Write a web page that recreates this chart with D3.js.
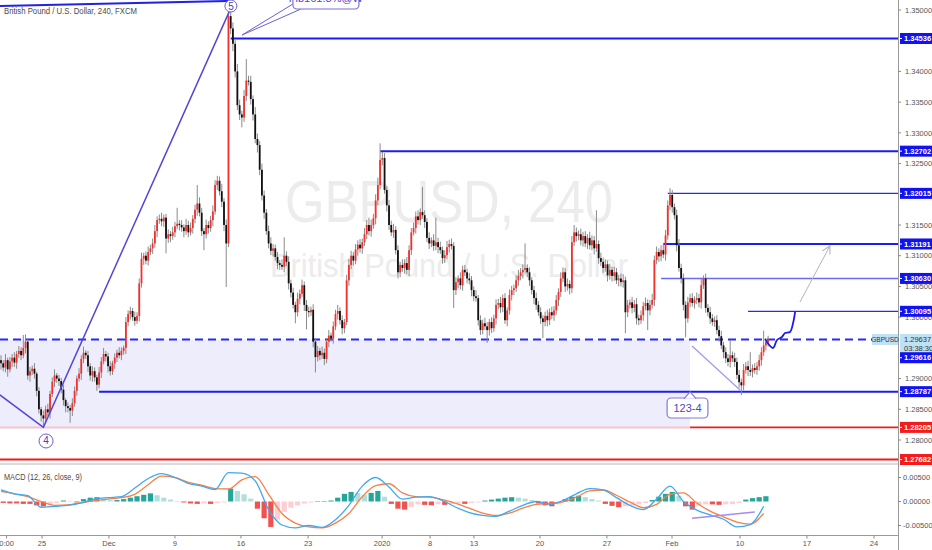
<!DOCTYPE html>
<html><head><meta charset="utf-8">
<script src="https://cdn.jsdelivr.net/npm/d3@7"></script>
<style>
html,body{margin:0;padding:0;background:#fff;overflow:hidden}
svg{display:block;font-family:"Liberation Sans",Arial,sans-serif}
</style></head><body>
<svg id="c" width="932" height="550"></svg>
<script>
// ---------- DATA (4h bars, prices in pips relative to 1.30000) ----------
const PRICE_BASE = 1.3, PIP = 0.0001;
const firstOpen = -70;
const closes = [
-75,-82,-70,-85,-72,-66,-74,-60,-55,-62,
-50,-40,-95,-88,-84,-92,-120,-150,-160,-165,
-150,-155,-125,-105,-95,-100,-104,-118,-135,-145,
-148,-152,-140,-120,-100,-92,-68,-58,-62,-80,
-95,-88,-98,-110,-90,-72,-60,-64,-80,-88,
-75,-66,-58,-62,-55,-50,-8,5,10,0,
-6,2,55,95,100,92,106,112,120,140,
158,160,156,162,128,135,132,138,148,152,
150,146,140,150,138,145,160,175,185,170,
140,135,150,145,158,172,215,222,205,188,
150,120,490,470,445,400,345,330,325,360,
385,383,355,330,290,280,240,198,170,140,
120,108,112,98,88,85,82,100,90,55,
40,20,8,30,38,52,20,10,8,12,
-40,-65,-55,-62,-58,-68,-40,-30,-35,-15,
5,10,-5,-18,-8,60,85,100,92,110,
118,112,122,135,150,140,150,161,190,215,
256,259,207,182,150,138,142,109,73,85,
80,88,77,109,138,145,164,158,171,166,
155,129,120,125,116,122,114,109,96,101,
114,119,116,44,57,63,52,77,73,63,
60,44,34,31,-5,-21,-10,-15,-21,-8,
-18,-2,20,23,16,31,-5,11,36,44,
47,60,67,73,77,80,73,60,44,31,
20,8,-2,-8,2,-5,8,3,11,28,
41,63,73,50,54,47,122,138,132,135,
125,132,120,129,117,125,112,119,96,90,
80,86,68,77,67,73,60,63,57,60,
8,20,24,15,21,-2,-5,3,18,23,
11,20,28,93,106,99,109,102,133,182,
199,179,166,117,80,63,20,-2,24,31,
23,28,31,24,52,63,15,8,-2,-8,
-5,-21,-31,-46,-57,-67,-73,-62,-67,-73,
-94,-106,-111,-86,-80,-86,-89,-83,-86,-80,
-70,-57,-46,-41,-36.3];
const wickUp = [
8,5,10,4,7,6,9,5,8,6, 21,12,4,7,5,9,3,6,4,8, 6,9,5,7,10,4,6,5,8,3, 6,5,8,7,5,9,6,10,4,7,
5,8,6,4,9,7,10,5,6,8, 4,7,5,9,6,4,8,6,7,5, 9,6,8,10,5,7,9,6,8,10, 6,7,10,5,6,8,5,9,7,26,
6,8,5,10,7,9,6,8,30,10, 8,5,9,6,7,10,8,8,7,12, 6,9,15,7,10,8,12,9,6,10, 35,8,10,6,12,9,7,10,8,6,
9,10,7,6,8,5,9,30,7,9, 6,8,5,10,7,9,6,8,7,5, 9,6,8,5,10,7,6,9,5,8, 7,10,6,8,5,9,10,8,6,9,
7,9,6,10,8,12,9,7,10,12, 27,10,8,6,9,7,10,6,8,5, 9,6,10,8,7,9,8,10,6,41, 8,6,9,5,10,40,7,9,6,8,
10,7,9,6,8,5,10,7,8,6, 9,7,6,10,5,8,6,9,7,5, 8,6,9,7,10,6,8,5,9,7, 6,8,10,7,9,40,6,8,5,7,
9,6,8,5,7,10,6,9,7,8, 6,10,8,7,9,6,10,12,8,6, 9,7,8,6,10,8,7,55,6,9, 7,8,6,10,5,9,7,6,8,10,
6,8,5,9,7,10,6,8,7,9, 6,8,10,7,9,6,8,10,9,8, 11,8,6,9,10,7,8,6,9,7, 8,6,9,7,10,5,8,6,9,7,
6,8,7,9,6,8,7,25,6,9, 7,8,6,10,7,9,29,6,8,7, 9,8,24,7,6];
const wickDown = [
10,6,8,12,5,9,7,10,6,8, 5,9,7,10,6,8,9,7,10,13, 8,6,10,5,9,7,8,6,9,10, 7,20,9,6,8,5,10,7,6,9,
8,10,7,10,6,9,5,8,10,7, 6,9,7,5,8,6,10,7,9,6, 8,5,9,7,10,6,8,5,9,7, 10,6,8,9,24,7,10,6,8,5,
9,7,10,6,8,5,9,7,10,6, 8,26,7,9,6,10,5,8,7,9, 10,71,6,9,12,10,8,9,16,7, 8,6,9,10,7,12,9,8,10,6,
8,7,9,6,10,8,5,9,7,10, 8,6,18,7,9,5,10,30,8,6, 9,25,7,8,6,10,7,9,5,8, 6,9,7,10,8,5,9,7,8,6,
10,7,9,6,8,7,9,6,10,8, 7,9,6,10,8,6,9,7,10,8, 6,9,7,10,8,5,9,7,8,6, 10,7,9,6,8,7,10,6,9,8,
7,9,6,29,8,10,7,9,6,8, 7,10,8,6,9,8,7,6,21,9, 8,6,10,7,9,8,6,10,7,9, 8,6,9,7,10,6,8,9,7,10,
8,6,9,26,7,10,8,6,9,7, 10,8,6,9,7,10,8,6,9,7, 8,10,6,9,7,8,10,6,9,7, 8,6,10,7,9,8,6,10,7,9,
34,8,6,9,7,10,8,6,9,7, 32,8,6,10,7,9,8,6,10,7, 8,9,7,10,6,8,9,31,7,8, 6,9,7,8,10,6,8,7,9,6,
8,7,9,6,10,8,7,9,6,8, 7,9,16,8,6,10,7,9,6,8, 7,9,6,8,7];

// horizontal levels
const levelPrices = [1.34536,1.32702,1.32015,1.31191,1.30630,1.30095,1.28787,1.28205,1.27682];
const levelStartBars = [103,170,299,297,296,335,44,309,-1];
const currentPrice = 1.29637, countdown = "03:38:30", bidPrice = 1.29616, symbol = "GBPUSD";
// right axis ticks
const priceTicks = [1.35,1.34,1.335,1.33,1.325,1.315,1.31,1.305,1.30,1.29,1.285,1.28];
// time axis
const timeTickBars = [2.5,18.4,48.4,78,107.6,137.7,170.9,192.4,212.1,241.7,271.7,300.9,331.4,361.4,391.5];
const timeTickLabels = ["0:00","25","Dec","9","16","23","2020","8","13","20","27","Feb","10","17","24"];
// MACD (units of 0.001), sampled every 6 bars
const macdLine = [2.4,1.6,1.2,-1.2,-1.0,-0.8,-0.3,0.5,0.8,1.0, 2.8,4.8,5.8,5.0,3.8,3.2,2.5,6.0,5.9,4.3,
 -1.7,-4.9,-5.5,-5.0,-5.4,-3.8,-0.8,3.2,5.0,3.0, 0.5,0.9,1.0,0.2,-1.2,-2.3,-2.9,-3.1,-2.0,-0.8,
 0,-0.6,0.2,1.6,2.7,2.4,0.8,-0.8,-1.7,0.5, 3.2,0.0,-1.8,-2.8,-3.7,-5.3,-4.8,-1.0];
const signalLine = [2.1,1.6,1.0,0.0,-0.8,-0.7,-0.3,0.2,0.5,0.8, 1.5,3.5,5.3,5.0,4.0,3.4,2.7,2.6,4.5,5.2,
 1.5,-2.5,-4.5,-5.3,-5.5,-4.5,-2.5,1.0,3.3,3.7, 1.8,1.0,0.9,0.4,-0.4,-1.4,-2.4,-2.9,-2.4,-1.4,
 -0.6,-0.4,-0.1,0.9,2.2,2.4,1.3,-0.1,-1.3,-0.6, 1.5,1.8,-0.3,-2.0,-3.2,-4.3,-4.7,-2.5];
// MACD histogram (units of 0.001), sampled every 3 bars starting at bar 1
const macdHist = [-0.3,-0.4,-0.4,-0.5,-0.5, -0.8,-1.0,-0.8, -0.3,0.2,0.1,-0.2, 0.5,0.8,0.9,0.6, 0.3,0.3,
 0.5,0.8,1.1,1.4,1.7,1.3, 0.8,0.4,0.1, -0.2,-0.4,-0.5,-0.4,-0.5,-0.3,-0.2, 2.7,2.2, 1.5,0.6,
 -1.5,-3.5,-5.3,-3.8, -2.2,-1.3,-0.8, -0.4,-0.2,0.1,-0.1,0.2, 0.8,1.6,2.0,1.8,1.4, 1.8,2.2,1.0,
 -0.5,-1.5,-1.7,-1.1, -0.6,-0.7,-0.8,-0.6,-0.7,-0.5, -0.4,-0.5,-0.3,-0.2,0.2,0.4, 0.6,0.8,0.9,0.8,0.6,0.3,
 -0.4,-0.8,-1.0,-0.6, 0.5,1.0,1.2,0.9, 0.5,0.2, -0.5,-0.9,-1.2,-1.0,-0.8, -0.6,-0.3,0.3,
 1.0,1.6,2.0,1.2, -1.0,-1.7, -0.9,-0.6,-0.6,-0.7,-0.6,-0.5,-0.3, 0.4,0.7,0.9,1.1];
// drawing anchors [bar, price]
const waveBars = [-0.5,19,102.3], wavePrices = [1.28733,1.28205,1.3497];
const topLineBars = [-0.5,101.8], topLinePrices = [1.35065,1.35147];
const circleTexts = ["4","5"], circleBars = [20.2,103.1], circlePrices = [1.27984,1.35065];
const fibText = "Fib161.8%@W", fibBoxBars = [130.9,160.5], fibBoxPrices = [1.35358,1.35016], fibTip = [108.1,1.34593];
const tagText = "123-4", tagBoxBars = [298.7,317], tagBoxPrices = [1.28684,1.28358], tagTip = [309,1.28782];
const diagBars = [309.9,331.4], diagPrices = [1.2953,1.28814];
const arrowBars = [358.3,371.7], arrowPrices = [1.30247,1.31158];
const pathBars = [342.6,346.2,348.0,350.2,351.6,353.8,355.2,356.1];
const pathPrices = [1.29644,1.29498,1.29628,1.29677,1.29742,1.29758,1.29905,1.30084];
const boxBars = [-1,309], boxPrices = [1.28205,1.29637];

// ---------- SCALES ----------
const AX = 898;
const x = d3.scaleLinear().domain([0,400]).range([1,1+400*2.23]);
const y = d3.scaleLinear().domain([1.28,1.35]).range([440,10]);
const ym = d3.scaleLinear().domain([-0.005,0.005]).range([525.5,477.5]);
const P = v => PRICE_BASE + v*PIP;
const svg = d3.select("#c");
svg.append("rect").attr("width",932).attr("height",550).attr("fill","#fff");
const defs = svg.append("defs");
defs.append("clipPath").attr("id","main").append("rect").attr("x",0).attr("y",0).attr("width",AX).attr("height",463);
defs.append("clipPath").attr("id","sub").append("rect").attr("x",0).attr("y",465).attr("width",AX).attr("height",70);
defs.append("marker").attr("id","ah").attr("viewBox","0 0 10 10").attr("refX",9).attr("refY",5)
  .attr("markerWidth",9).attr("markerHeight",9).attr("orient","auto")
  .append("path").attr("d","M0,0 L9,5 L0,10").attr("fill","none").attr("stroke","#b4b4b4").attr("stroke-width",1.2);

const main = svg.append("g").attr("clip-path","url(#main)");

// watermark
main.append("text").attr("x",285).attr("y",222).attr("font-size",60).attr("fill","#ececec")
  .attr("textLength",328).attr("lengthAdjust","spacingAndGlyphs").text("GBPUSD, 240");
main.append("text").attr("x",270).attr("y",277).attr("font-size",33).attr("fill","#ececec")
  .attr("textLength",358).attr("lengthAdjust","spacingAndGlyphs").text("British Pound / U.S. Dollar");

// lavender box
main.append("rect").attr("x",x(boxBars[0])).attr("y",y(boxPrices[1]))
  .attr("width",x(boxBars[1])-x(boxBars[0])).attr("height",y(boxPrices[0])-y(boxPrices[1]))
  .attr("fill","#ededfb");
main.append("line").attr("x1",x(boxBars[0])).attr("x2",x(boxBars[1])).attr("y1",y(boxPrices[0])).attr("y2",y(boxPrices[0]))
  .attr("stroke","#f5c4cc").attr("stroke-width",2);

// level lines
const lvlStyle = [["#1c1cf0",2],["#1c1cf0",2],["#2a2aee",1.3],["#1c1cf0",2],["#6a6af2",1.4],["#2a2aee",1.2],["#1c1cf0",2],["#f31b1b",1.8],["#f31b1b",2]];
levelPrices.forEach((p,k)=>{
  main.append("line").attr("x1",x(levelStartBars[k])).attr("x2",AX).attr("y1",y(p)).attr("y2",y(p))
    .attr("stroke",lvlStyle[k][0]).attr("stroke-width",lvlStyle[k][1]);
});
// current price dashed line
main.append("line").attr("x1",0).attr("x2",AX).attr("y1",y(currentPrice)).attr("y2",y(currentPrice))
  .attr("stroke","#2b2bf0").attr("stroke-width",2).attr("stroke-dasharray","8,5");

// candles
const candles = closes.map((c,i)=>{
  const o = i ? closes[i-1] : firstOpen;
  return {i, o:P(o), c:P(c), h:P(Math.max(o,c)+(wickUp[i]||0)), l:P(Math.min(o,c)-(wickDown[i]||0))};
});
const cg = main.append("g");
cg.selectAll("line.w").data(candles).join("line").attr("class","w")
  .attr("x1",d=>x(d.i)).attr("x2",d=>x(d.i)).attr("y1",d=>y(d.h)).attr("y2",d=>y(d.l))
  .attr("stroke","#8a8a8a").attr("stroke-width",1);
cg.selectAll("rect.b").data(candles).join("rect").attr("class","b")
  .attr("x",d=>x(d.i)-0.9).attr("width",1.8)
  .attr("y",d=>y(Math.max(d.o,d.c))).attr("height",d=>Math.max(1,Math.abs(y(d.o)-y(d.c))))
  .attr("fill",d=>d.c>=d.o?"#f5302c":"#111");

// drawings
const ptLine = d3.line().x(d=>x(d[0])).y(d=>y(d[1]));
main.append("path").attr("d",ptLine(topLineBars.map((b,k)=>[b,topLinePrices[k]])))
  .attr("fill","none").attr("stroke","#2222e6").attr("stroke-width",2);
main.append("path").attr("d",ptLine(waveBars.map((b,k)=>[b,wavePrices[k]])))
  .attr("fill","none").attr("stroke","#5546d6").attr("stroke-width",1.5);
circleTexts.forEach((t,k)=>{
  const cx=x(circleBars[k]), cy=y(circlePrices[k]);
  main.append("circle").attr("cx",cx).attr("cy",cy).attr("r",k?6:7).attr("fill","#fff").attr("stroke","#6a5fcf").attr("stroke-width",1);
  main.append("text").attr("x",cx).attr("y",cy+3.5).attr("text-anchor","middle").attr("font-size",10).attr("fill","#4a3fb8").text(t);
});
// fib callout
{
  const x0=x(fibBoxBars[0]), x1=x(fibBoxBars[1]), y0=y(fibBoxPrices[0]), y1=y(fibBoxPrices[1]);
  const tx=x(fibTip[0]), ty=y(fibTip[1]);
  main.append("path").attr("d",`M${x0},${y1-5} L${tx},${ty} L${x0+8},${y1}`).attr("fill","#fff").attr("stroke","#6a5fd6").attr("stroke-width",1);
  main.append("rect").attr("x",x0).attr("y",y0).attr("width",x1-x0).attr("height",y1-y0).attr("rx",4)
    .attr("fill","#fff").attr("stroke","#7a6fd6").attr("stroke-width",1.2);
  main.append("text").attr("x",(x0+x1)/2).attr("y",y1-7.5).attr("text-anchor","middle").attr("font-size",11)
    .attr("fill","#4f44c8").text(fibText);
}
// 123-4 tag
{
  const x0=x(tagBoxBars[0]), x1=x(tagBoxBars[1]), y0=y(tagBoxPrices[0]), y1=y(tagBoxPrices[1]);
  const tx=x(tagTip[0]), ty=y(tagTip[1]);
  main.append("rect").attr("x",x0).attr("y",y0).attr("width",x1-x0).attr("height",y1-y0).attr("rx",4)
    .attr("fill","#fff").attr("stroke","#8578d8").attr("stroke-width",1.2);
  main.append("path").attr("d",`M${tx-6},${y0+0.6} L${tx},${ty} L${tx+6},${y0+0.6}`).attr("fill","#fff").attr("stroke","#8578d8").attr("stroke-width",1.2);
  main.append("text").attr("x",(x0+x1)/2).attr("y",(y0+y1)/2+4).attr("text-anchor","middle").attr("font-size",11)
    .attr("fill","#5048b8").text(tagText);
}
main.append("path").attr("d",ptLine(diagBars.map((b,k)=>[b,diagPrices[k]])))
  .attr("fill","none").attr("stroke","#a396f0").attr("stroke-width",1.2);
main.append("path").attr("d",ptLine(arrowBars.map((b,k)=>[b,arrowPrices[k]])))
  .attr("fill","none").attr("stroke","#b4b4b4").attr("stroke-width",1).attr("marker-end","url(#ah)");
main.append("path").attr("d",d3.line().x(d=>x(d[0])).y(d=>y(d[1])).curve(d3.curveCatmullRom)(pathBars.map((b,k)=>[b,pathPrices[k]])))
  .attr("fill","none").attr("stroke","#1c1ce8").attr("stroke-width",1.8);

// title
svg.append("text").attr("x",4).attr("y",14).attr("font-size",8.5).attr("fill","#4a4a4a")
  .attr("textLength",133).attr("lengthAdjust","spacingAndGlyphs").text("British Pound / U.S. Dollar, 240, FXCM");

// ---------- MACD pane ----------
const sub = svg.append("g").attr("clip-path","url(#sub)");
const hist = macdHist.map((v,k)=>({b:3*k+1, v:v*0.001, prev:(k?macdHist[k-1]:v)*0.001}));
sub.selectAll("rect.h").data(hist).join("rect").attr("class","h")
  .attr("x",d=>x(d.b)-2.6).attr("width",5.2)
  .attr("y",d=>Math.min(ym(0),ym(d.v))).attr("height",d=>Math.abs(ym(d.v)-ym(0)))
  .attr("fill",d=> d.v>=0 ? (d.v>=d.prev?"#26a69a":"#b2dfdb") : (d.v<=d.prev?"#ef5350":"#ffcdd2"));
const mline = d3.line().x(d=>x(d[0])).y(d=>ym(d[1])).curve(d3.curveMonotoneX);
sub.append("path").attr("d",mline(signalLine.map((v,k)=>[6*k,v*0.001]))).attr("fill","none").attr("stroke","#f7804a").attr("stroke-width",1.3);
sub.append("path").attr("d",mline(macdLine.map((v,k)=>[6*k,v*0.001]))).attr("fill","none").attr("stroke","#3fa9f0").attr("stroke-width",1.3);
sub.append("line").attr("x1",x(309.9)).attr("x2",x(338)).attr("y1",ym(-0.0035)).attr("y2",ym(-0.0022))
  .attr("stroke","#a38bf0").attr("stroke-width",1.6);
svg.append("text").attr("x",4).attr("y",480).attr("font-size",8.5).attr("fill","#4a4a4a")
  .attr("textLength",78).attr("lengthAdjust","spacingAndGlyphs").text("MACD (12, 26, close, 9)");

// ---------- frame / axes ----------
svg.append("line").attr("x1",0).attr("x2",AX).attr("y1",464).attr("y2",464).attr("stroke","#b8b8b8").attr("stroke-width",1);
svg.append("line").attr("x1",0).attr("x2",AX+1).attr("y1",535.5).attr("y2",535.5).attr("stroke","#9a9a9a").attr("stroke-width",1);
svg.append("line").attr("x1",AX+0.5).attr("x2",AX+0.5).attr("y1",0).attr("y2",550).attr("stroke","#9a9a9a").attr("stroke-width",1);

const ax = svg.append("g").attr("font-size",7.5).attr("fill","#555");
priceTicks.forEach(p=>{
  ax.append("line").attr("x1",AX).attr("x2",AX+3).attr("y1",y(p)).attr("y2",y(p)).attr("stroke","#888");
  ax.append("text").attr("x",AX+7).attr("y",y(p)+2.7).text(p.toFixed(5));
});
[0.005,0,-0.005].forEach(v=>{
  ax.append("line").attr("x1",AX).attr("x2",AX+3).attr("y1",ym(v)).attr("y2",ym(v)).attr("stroke","#888");
  ax.append("text").attr("x",AX+5).attr("y",ym(v)+2.7).text(v.toFixed(5));
});
timeTickBars.forEach((b,k)=>{
  ax.append("line").attr("x1",x(b)).attr("x2",x(b)).attr("y1",535.5).attr("y2",538.5).attr("stroke","#888");
  ax.append("text").attr("x",x(b)).attr("y",545.5).attr("text-anchor","middle").text(timeTickLabels[k]);
});

// price labels
function plabel(yc, txt, bg, fg){
  ax.append("rect").attr("x",AX+2).attr("y",yc-5.5).attr("width",34).attr("height",11).attr("fill",bg);
  ax.append("line").attr("x1",AX+2).attr("x2",AX+4).attr("y1",yc).attr("y2",yc).attr("stroke",fg);
  ax.append("text").attr("x",AX+6).attr("y",yc+2.7).attr("fill",fg).attr("font-weight","bold").text(txt);
}
levelPrices.forEach((p,k)=>{ plabel(y(p), p.toFixed(5), k>=7?"#f31b1b":"#1212ee", "#fff"); });
// current price block
{
  const yc = y(currentPrice);
  ax.append("rect").attr("x",AX-26).attr("y",yc-5.5).attr("width",26).attr("height",11).attr("fill","#bfe1f4");
  ax.append("text").attr("x",AX-13).attr("y",yc+2.5).attr("text-anchor","middle").attr("font-size",6.5).attr("fill","#333").text(symbol);
  ax.append("rect").attr("x",AX+2).attr("y",yc-5.5).attr("width",34).attr("height",21).attr("fill","#bfe1f4");
  ax.append("text").attr("x",AX+6).attr("y",yc+2.7).attr("fill","#333").text(currentPrice.toFixed(5));
  ax.append("text").attr("x",AX+6).attr("y",yc+12).attr("fill","#333").text(countdown);
  plabel(y(bidPrice)+17, bidPrice.toFixed(5), "#1212ee", "#fff");
}
</script>
</body></html>
